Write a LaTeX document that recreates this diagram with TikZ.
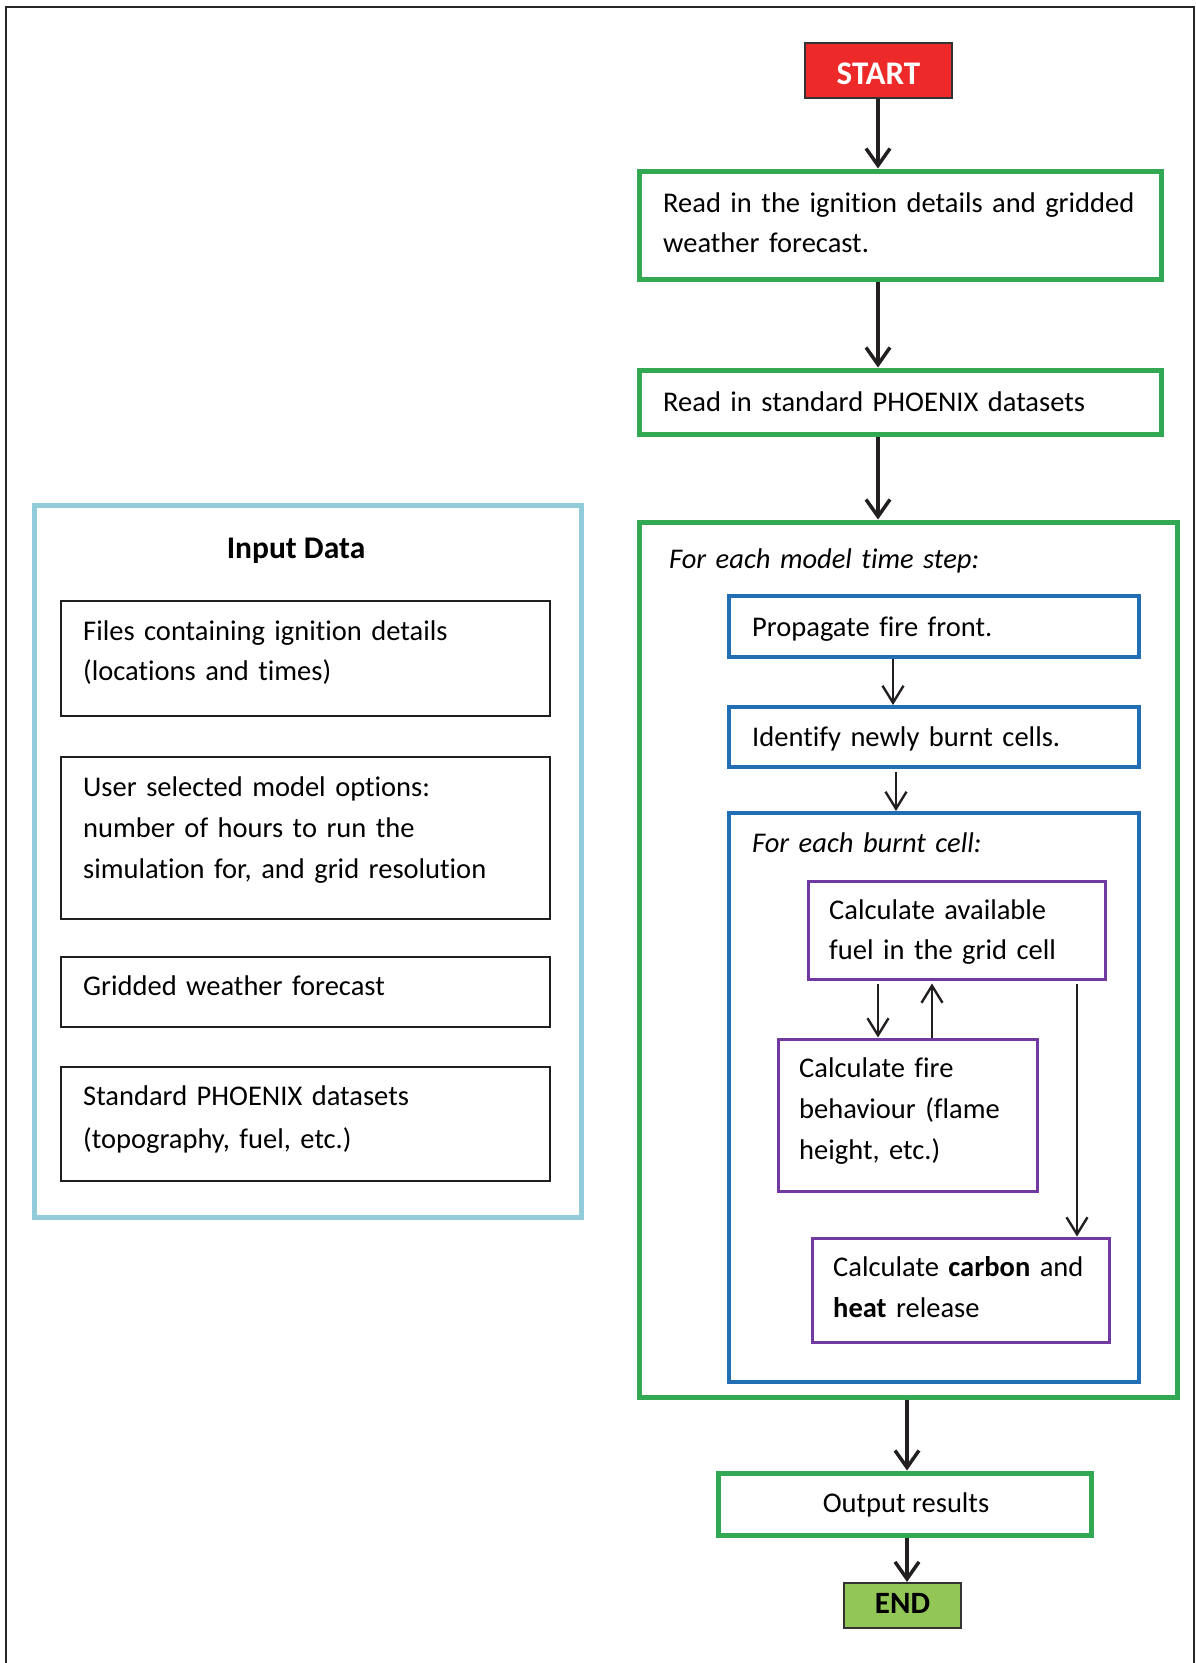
\documentclass[tikz,border=0pt]{standalone}
\usepackage{fontspec}
\setmainfont{Carlito}[Ligatures=NoCommon]
\usetikzlibrary{arrows.meta,fit}
\definecolor{cgreen}{RGB}{50,168,82}
\definecolor{cblue}{RGB}{33,110,181}
\definecolor{cpurple}{RGB}{112,58,160}
\definecolor{clight}{RGB}{146,203,217}
\definecolor{cred}{RGB}{237,41,41}
\definecolor{cend}{RGB}{146,199,88}
\definecolor{carrow}{RGB}{35,31,32}
\newcommand\myfont{\fontsize{28.5}{40}\selectfont}
\begin{document}
\begin{tikzpicture}[x=1pt,y=-1pt,
  every node/.style={inner sep=0pt},
  boxg/.style={draw=cgreen,line width=5pt},
  boxb/.style={draw=cblue,line width=4pt},
  boxp/.style={draw=cpurple,line width=3pt},
  boxk/.style={draw=black!88,line width=2.2pt},
  boxl/.style={draw=clight,line width=5pt},
  termbox/.style={draw=black!80,line width=2.2pt},
  txt/.style={anchor=base west,align=left,text width=520pt,font=\myfont},
  ctxt/.style={anchor=base,font=\myfont},
  bigarr/.style={draw=carrow,line width=3.5pt,-{Straight Barb[length=17pt,width=24pt]}},
  thinarr/.style={draw=carrow,line width=2.4pt,-{Straight Barb[length=17pt,width=21pt]}}
]
\useasboundingbox (0,0) rectangle (1196,1663);
% page frame
\draw[black!85,line width=2.5pt] (6,1663) -- (6,7) -- (1194,7) -- (1194,1663);

% ---- right column ----
\node[termbox,fill=cred,fit={(805,43) (952,98)}] (start) {};
\node[anchor=base,font=\fontsize{33}{38}\selectfont\bfseries,text=white] (startt) at (878.5,84) {START};

\node[boxg,fit={(639,171) (1161,279)}] (b1) {};
\node[txt] (t1) at (663,212.5) {Read in the ignition details and gridded\\weather forecast.};

\node[boxg,fit={(639,370) (1161,434)}] (b2) {};
\node[txt] (t2) at (663,411) {Read in standard PHOENIX datasets};

\node[boxg,fit={(639,522) (1177,1397)}] (loop) {};
\node[txt,font=\myfont\itshape] (tloop) at (669,568) {For each model time step:};

\node[boxb,fit={(729,596) (1139,657)}] (prop) {};
\node[txt] (tprop) at (752,636) {Propagate fire front.};

\node[boxb,fit={(729,707) (1139,767)}] (ident) {};
\node[txt] (tident) at (752,746) {Identify newly burnt cells.};

\node[boxb,fit={(729,813) (1139,1382)}] (cell) {};
\node[txt,font=\myfont\itshape] (tcell) at (752,852) {For each burnt cell:};

\node[boxp,fit={(808,881) (1105,979)}] (fuel) {};
\node[txt] (tfuel) at (829,919.5) {Calculate available\\fuel in the grid cell};

\node[boxp,fit={(778,1039) (1037,1191)}] (fire) {};
\node[txt] (tfire) at (799,1077.5) {Calculate fire\\[1pt]behaviour (flame\\[1pt]height, etc.)};

\node[boxp,fit={(812,1238) (1109,1342)}] (carb) {};
\node[txt] (tcarb) at (833,1276) {Calculate \textbf{carbon} and\\[1pt]\textbf{heat} release};

\node[boxg,fit={(718,1473) (1091,1535)}] (out) {};
\node[ctxt] (tout) at (906,1512) {Output results};

\node[termbox,fill=cend,fit={(844,1583) (961,1628)}] (end) {};
\node[anchor=base,font=\fontsize{31}{36}\selectfont\bfseries] (endt) at (902.5,1613) {END};

% ---- left column ----
\node[boxl,fit={(34,505) (581,1217)}] (input) {};
\node[anchor=base,font=\fontsize{31.5}{38}\selectfont\bfseries] (tinput) at (296,558) {Input Data};

\node[boxk,fit={(61,601) (550,716)}] (l1) {};
\node[txt] (tl1) at (83,640) {Files containing ignition details\\(locations and times)};

\node[boxk,fit={(61,757) (550,919)}] (l2) {};
\node[txt] (tl2) at (83,796) {User selected model options:\\[1pt]number of hours to run the\\[1pt]simulation for, and grid resolution};

\node[boxk,fit={(61,957) (550,1027)}] (l3) {};
\node[txt] (tl3) at (83,995) {Gridded weather forecast};

\node[boxk,fit={(61,1067) (550,1181)}] (l4) {};
\node[txt] (tl4) at (83,1105) {Standard PHOENIX datasets\\[3pt](topography, fuel, etc.)};

% ---- connectors ----
\coordinate (cx) at (878,0);
\coordinate (cy) at (907,0);
\coordinate (px) at (893,0);
\coordinate (ix) at (896,0);
\coordinate (fa) at (878,0);
\coordinate (fb) at (932,0);
\coordinate (fc) at (1077,0);

\draw[bigarr] (cx |- start.south) -- (cx |- b1.north);
\draw[bigarr] (cx |- b1.south) -- (cx |- b2.north);
\draw[bigarr] (cx |- b2.south) -- (cx |- loop.north);
\draw[bigarr] (cy |- loop.south) -- (cy |- out.north);
\draw[bigarr] (cy |- out.south) -- (cy |- end.north);

\draw[thinarr] (px |- prop.south) -- (px |- ident.north);
\draw[thinarr,shorten <=3pt] (ix |- ident.south) -- (ix |- cell.north);

\draw[thinarr,shorten <=3pt] (fa |- fuel.south) -- (fa |- fire.north);
\draw[thinarr,shorten >=3pt] (fb |- fire.north) -- (fb |- fuel.south);
\draw[thinarr,shorten <=3pt] (fc |- fuel.south) -- (fc |- carb.north);
\end{tikzpicture}
\end{document}
